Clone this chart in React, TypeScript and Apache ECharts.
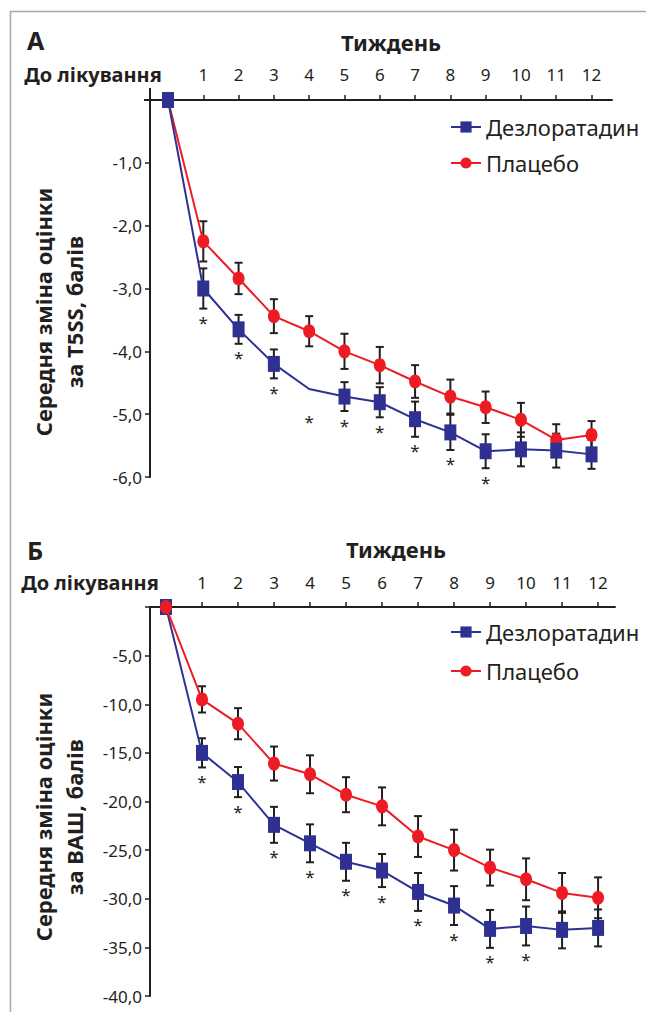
import React, { useEffect, useRef } from "react";
import * as echarts from "echarts";

// ---- data ----
const weeks = [0, 1, 2, 3, 4, 5, 6, 7, 8, 9, 10, 11, 12];
const weekTicks = [1, 2, 3, 4, 5, 6, 7, 8, 9, 10, 11, 12];
const seriesNames = ["Дезлоратадин", "Плацебо"];

// Panel A: T5SS
const t5ssDesl = [0, -3.0, -3.65, -4.2, -4.6, -4.72, -4.81, -5.08, -5.29, -5.59, -5.56, -5.58, -5.64];
const t5ssDeslErr = [null, 0.32, 0.23, 0.23, 0.3, 0.23, 0.24, 0.28, 0.28, 0.27, 0.27, 0.27, 0.23];
const t5ssDeslHidden = [4]; // week without marker / error bar
const t5ssPlac = [0, -2.25, -2.84, -3.44, -3.68, -4.0, -4.22, -4.48, -4.72, -4.89, -5.09, -5.41, -5.33];
const t5ssPlacErr = [null, 0.32, 0.25, 0.27, 0.24, 0.28, 0.29, 0.26, 0.27, 0.25, 0.27, 0.25, 0.22];
const t5ssSig = [0, 1, 1, 1, 1, 1, 1, 1, 1, 1, 0, 0, 0];

// Panel Б: ВАШ
const vasDesl = [0, -15.0, -18.0, -22.4, -24.3, -26.2, -27.1, -29.3, -30.7, -33.1, -32.8, -33.2, -33.0];
const vasDeslErr = [null, 1.5, 1.55, 1.85, 1.95, 1.95, 1.7, 1.95, 2.0, 1.95, 2.0, 1.9, 1.9];
const vasPlac = [0, -9.5, -12.0, -16.1, -17.2, -19.3, -20.5, -23.6, -25.0, -26.8, -28.0, -29.4, -29.9];
const vasPlacErr = [null, 1.35, 1.6, 1.75, 1.95, 1.8, 1.95, 2.1, 2.1, 1.85, 2.15, 2.05, 2.1];
const vasSig = [0, 1, 1, 1, 1, 1, 1, 1, 1, 1, 1, 0, 0];

const BLUE = "#2e3192";
const RED = "#ed1c24";
const INK = "#231f20";
const FONT = "'Noto Sans', 'Open Sans', sans-serif";

const fmt = (v: number) => (v === 0 ? "" : v.toFixed(1).replace(".", ","));

function lineData(vals: number[], hidden: number[] = []) {
  return weeks.map((w, i) =>
    hidden.includes(w) ? { value: [w, vals[i]], symbol: "none" } : { value: [w, vals[i]] }
  );
}

function errData(vals: number[], errs: (number | null)[], hidden: number[] = []) {
  const out: number[][] = [];
  weeks.forEach((w, i) => {
    const e = errs[i];
    if (e == null || hidden.includes(w)) return;
    out.push([w, vals[i] - e, vals[i] + e]);
  });
  return out;
}

function sigData(vals: number[], errs: (number | null)[], sig: number[]) {
  const out: number[][] = [];
  weeks.forEach((w, i) => {
    if (!sig[i]) return;
    out.push([w, vals[i] - (errs[i] ?? 0)]);
  });
  return out;
}

const errRender = (params: any, api: any) => {
  const x = api.value(0);
  const lo = api.coord([x, api.value(1)]);
  const hi = api.coord([x, api.value(2)]);
  const w = 4;
  const st = { stroke: INK, lineWidth: 2 };
  return {
    type: "group",
    children: [
      { type: "line", shape: { x1: lo[0], y1: lo[1], x2: hi[0], y2: hi[1] }, style: st },
      { type: "line", shape: { x1: lo[0] - w, y1: lo[1], x2: lo[0] + w, y2: lo[1] }, style: st },
      { type: "line", shape: { x1: hi[0] - w, y1: hi[1], x2: hi[0] + w, y2: hi[1] }, style: st },
    ],
  };
};

const sigRender = (params: any, api: any) => {
  const p = api.coord([api.value(0), api.value(1)]);
  return {
    type: "text",
    x: p[0],
    y: p[1] + 14,
    style: { text: "*", fontSize: 17, fill: INK, align: "center", verticalAlign: "middle", fontFamily: FONT },
  };
};

export default function App() {
  const ref = useRef<HTMLDivElement>(null);
  useEffect(() => {
    if (!ref.current) return;
    const chart = echarts.init(ref.current, null, { renderer: "svg" });

    const xAxisBase = (gridIndex: number, min: number, max: number, margin: number) => ({
      type: "value",
      gridIndex,
      position: "top",
      min,
      max,
      axisLine: { show: true, onZero: false, lineStyle: { color: INK, width: 2 } },
      axisTick: { show: true, inside: false, length: 5, customValues: weekTicks, lineStyle: { color: INK, width: 1.5 } },
      axisLabel: { show: true, customValues: weekTicks, margin, fontSize: 17, color: INK, fontFamily: FONT },
      splitLine: { show: false },
    });
    const yAxisBase = (gridIndex: number, min: number, interval: number) => ({
      type: "value",
      gridIndex,
      min,
      max: 0,
      interval,
      axisLine: { show: true, onZero: false, lineStyle: { color: INK, width: 2 } },
      axisTick: { show: true, length: 5, lineStyle: { color: INK, width: 1.5 } },
      axisLabel: { formatter: fmt, fontSize: 17, color: INK, margin: 8, fontFamily: FONT },
      splitLine: { show: false },
    });

    const lineSeries = (name: string, data: any[], idx: number, color: string, symbol: string, size: number[], z: number) => ({
      name,
      type: "line",
      xAxisIndex: idx,
      yAxisIndex: idx,
      data,
      symbol,
      symbolSize: size,
      itemStyle: { color },
      lineStyle: { color, width: 2 },
      z,
    });
    const errSeries = (data: number[][], idx: number) => ({
      type: "custom",
      xAxisIndex: idx,
      yAxisIndex: idx,
      data,
      encode: { x: 0, y: [1, 2] },
      renderItem: errRender,
      z: 1,
    });
    const sigSeries = (data: number[][], idx: number) => ({
      type: "custom",
      xAxisIndex: idx,
      yAxisIndex: idx,
      data,
      encode: { x: 0, y: 1 },
      renderItem: sigRender,
      z: 1,
    });

    const boldText = (text: string, x: number, y: number, size: number, align = "left") => ({
      type: "text",
      x,
      y,
      style: { text, fontSize: size, fontWeight: "bold", fill: INK, align, verticalAlign: "middle", fontFamily: FONT },
    });
    const yTitle = (text: string, x: number, y: number) => ({
      type: "text",
      x,
      y,
      rotation: Math.PI / 2,
      style: {
        text,
        fontSize: 22,
        fontWeight: "bold",
        fill: INK,
        align: "center",
        verticalAlign: "middle",
        lineHeight: 31,
        fontFamily: FONT,
      },
    });

    const legendBase = (top: number, gap: number) => ({
      data: seriesNames,
      orient: "vertical",
      left: 450,
      top,
      padding: 0,
      itemWidth: 30,
      itemHeight: 14,
      itemGap: gap,
      textStyle: { fontSize: 22, color: INK, lineHeight: 26, fontFamily: FONT },
      selectedMode: false,
    });

    const option: any = {
      animation: false,
      backgroundColor: "#ffffff",
      textStyle: { fontFamily: FONT },
      grid: [
        { left: 150, top: 100, width: 462, height: 377 },
        { left: 150, top: 607, width: 465, height: 389 },
      ],
      xAxis: [xAxisBase(0, -0.51, 12.58, 17), xAxisBase(1, -0.444, 12.47, 16)],
      yAxis: [yAxisBase(0, -6, 1), yAxisBase(1, -40, 5)],
      legend: [legendBase(114, 10), legendBase(619, 13)],
      graphic: [
        { type: "line", shape: { x1: 10.5, y1: 11, x2: 10.5, y2: 1012 }, style: { stroke: "#a7a9ac", lineWidth: 1.5 } },
        { type: "line", shape: { x1: 10, y1: 11.5, x2: 646, y2: 11.5 }, style: { stroke: "#a7a9ac", lineWidth: 1.5 } },
        { type: "line", shape: { x1: 150, y1: 88, x2: 150, y2: 100 }, style: { stroke: INK, lineWidth: 2 } },
        { type: "line", shape: { x1: 144, y1: 100, x2: 150, y2: 100 }, style: { stroke: INK, lineWidth: 2 } },
        boldText("А", 27, 40, 25),
        boldText("Тиждень", 391, 42, 22, "center"),
        boldText("До лікування", 93, 74, 20, "center"),
        boldText("Б", 27, 550, 25),
        boldText("Тиждень", 396, 549, 22, "center"),
        boldText("До лікування", 90, 582, 20, "center"),
        yTitle("Середня зміна оцінки\nза T5SS, балів", 58, 312),
        yTitle("Середня зміна оцінки\nза ВАШ, балів", 58, 817),
      ],
      series: [
        errSeries(errData(t5ssPlac, t5ssPlacErr), 0),
        errSeries(errData(t5ssDesl, t5ssDeslErr, t5ssDeslHidden), 0),
        sigSeries(sigData(t5ssDesl, t5ssDeslErr, t5ssSig), 0),
        lineSeries(seriesNames[1], lineData(t5ssPlac), 0, RED, "circle", [12, 14], 3),
        lineSeries(seriesNames[0], lineData(t5ssDesl, t5ssDeslHidden), 0, BLUE, "rect", [12, 16], 4),
        errSeries(errData(vasPlac, vasPlacErr), 1),
        errSeries(errData(vasDesl, vasDeslErr), 1),
        sigSeries(sigData(vasDesl, vasDeslErr, vasSig), 1),
        lineSeries(seriesNames[0], lineData(vasDesl), 1, BLUE, "rect", [12, 16], 3),
        lineSeries(seriesNames[1], lineData(vasPlac), 1, RED, "circle", [12, 14], 4),
      ],
    };
    chart.setOption(option);
    return () => chart.dispose();
  }, []);

  return (
    <div
      ref={ref}
      style={{ position: "fixed", left: 0, top: 0, width: 646, height: 1012, background: "#fff" }}
    />
  );
}
